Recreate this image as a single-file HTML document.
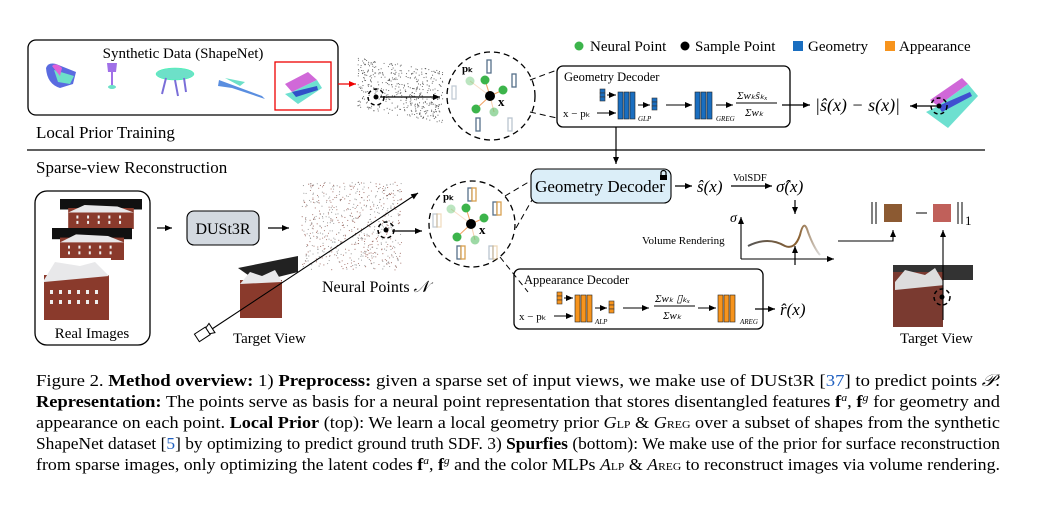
<!DOCTYPE html>
<html><head><meta charset="utf-8"><style>
html,body{margin:0;padding:0;background:#fff;}
svg{display:block;font-family:"Liberation Serif",serif;}
</style></head><body>
<svg id="s" width="1045" height="505" viewBox="0 0 1045 505" xmlns="http://www.w3.org/2000/svg">
<defs>
<marker id="a" markerWidth="8" markerHeight="8" refX="7" refY="4" orient="auto" markerUnits="userSpaceOnUse"><path d="M0,1 L7,4 L0,7 Z" fill="#000"/></marker>
<marker id="ar" markerWidth="8" markerHeight="8" refX="7" refY="4" orient="auto" markerUnits="userSpaceOnUse"><path d="M0,1 L7,4 L0,7 Z" fill="#e00"/></marker>
<linearGradient id="cg" x1="0" x2="1"><stop offset="0" stop-color="#555"/><stop offset="0.7" stop-color="#8a6030"/><stop offset="1" stop-color="#ddd"/></linearGradient>
</defs>
<rect x="28" y="40" width="310" height="75" rx="8" fill="none" stroke="#000" stroke-width="1.3"/>
<text x="183" y="58" font-size="15" text-anchor="middle">Synthetic Data (ShapeNet)</text>
<path d="M46,68 Q48,62 56,64 L76,72 L73,84 L60,88 Q47,84 46,68Z" fill="#5a6be0"/>
<path d="M54,70 L74,76 L70,84 L58,82Z" fill="#6de0c8"/><path d="M52,66 Q56,62 62,68 L60,76Z" fill="#e060d8"/>
<path d="M107,63 L117,63 L116,72 L108,72Z" fill="#a070e8"/><rect x="111" y="72" width="2" height="14" fill="#a070e8"/><ellipse cx="112" cy="87" rx="4" ry="2" fill="#6de0c8"/>
<ellipse cx="175" cy="74" rx="19" ry="6" fill="#6de0c8" stroke="#3fa" stroke-width=".5"/><path d="M166,78 L162,94 M175,80 L178,96 M184,78 L186,92" stroke="#7a6ed8" stroke-width="2"/>
<path d="M219,80 L262,96 L265,99 L232,88 L218,86Z" fill="#5a8ee0"/><path d="M225,78 L245,82 L240,86Z" fill="#6de0c8"/>
<rect x="275" y="62" width="56" height="48" fill="none" stroke="#e00" stroke-width="1.3"/>
<path d="M285,84 L308,72 L317,80 L292,92Z" fill="#d068d8"/><path d="M292,92 L317,80 L322,88 L298,104 L285,94Z" fill="#6de0d0"/><path d="M292,92 L317,86 L318,90 L296,97Z" fill="#3050c8"/>
<line x1="338" y1="84" x2="356" y2="84" stroke="#e00" stroke-width="1.3" marker-end="url(#ar)"/>
<text x="36" y="138" font-size="17">Local Prior Training</text>
<line x1="27" y1="150" x2="985" y2="150" stroke="#000" stroke-width="1.3"/>
<text x="36" y="173" font-size="17">Sparse-view Reconstruction</text>
<g id="pc1"></g><g id="pc2"></g>
<circle cx="376" cy="97" r="8" fill="none" stroke="#000" stroke-width="1.5" stroke-dasharray="4,3"/><circle cx="376" cy="97" r="2.5"/>
<line x1="380" y1="97" x2="440" y2="97" stroke="#000" stroke-width="1.2" marker-end="url(#a)"/>
<circle cx="491" cy="96" r="44" fill="none" stroke="#000" stroke-width="1.3" stroke-dasharray="6,4"/>
<g id="nb1"></g>
<line x1="530" y1="80" x2="557" y2="70" stroke="#000" stroke-dasharray="6,4"/><line x1="530" y1="112" x2="557" y2="118" stroke="#000" stroke-dasharray="6,4"/>
<circle cx="579" cy="46" r="4.5" fill="#3cb44b"/><text x="590" y="51" font-size="15">Neural Point</text>
<circle cx="685" cy="46" r="4.5" fill="#000"/><text x="695" y="51" font-size="15">Sample Point</text>
<rect x="793" y="41" width="10" height="10" fill="#1a6ec0"/><text x="808" y="51" font-size="15">Geometry</text>
<rect x="885" y="41" width="10" height="10" fill="#f7941d"/><text x="899" y="51" font-size="15">Appearance</text>
<rect x="557" y="66" width="233" height="61" rx="6" fill="none" stroke="#000" stroke-width="1.3"/>
<text x="564" y="81" font-size="12.5">Geometry Decoder</text>
<g id="gd"></g>
<line x1="782" y1="105" x2="810" y2="105" stroke="#000" stroke-width="1.2" marker-end="url(#a)"/>
<text x="815" y="111" font-size="18" font-style="italic">|ŝ(x) − s(x)|</text>
<line x1="938" y1="106" x2="910" y2="106" stroke="#000" stroke-width="1.2" marker-end="url(#a)"/>
<path d="M930,100 L962,78 L968,84 L938,106Z" fill="#d068d8"/><path d="M938,106 L968,84 L978,96 L948,128 L926,112Z" fill="#6de0d0"/><path d="M938,106 L970,92 L972,96 L942,112Z" fill="#4050d0"/>
<circle cx="939" cy="106" r="8" fill="none" stroke="#000" stroke-width="1.5" stroke-dasharray="4,3"/><circle cx="939" cy="106" r="2.5"/>
<line x1="616" y1="127" x2="616" y2="164" stroke="#000" stroke-width="1.2" marker-end="url(#a)"/>
<rect x="35" y="191" width="115" height="154" rx="12" fill="none" stroke="#000" stroke-width="1.3"/>
<g id="imgs"></g>
<text x="92" y="338" font-size="15" text-anchor="middle">Real Images</text>
<line x1="157" y1="228" x2="172" y2="228" stroke="#000" stroke-width="1.2" marker-end="url(#a)"/>
<rect x="187" y="211" width="72" height="34" rx="7" fill="#d3d9e0" stroke="#000" stroke-width="1.1"/>
<text x="223" y="234" font-size="16" text-anchor="middle">DUSt3R</text>
<line x1="268" y1="228" x2="289" y2="228" stroke="#000" stroke-width="1.2" marker-end="url(#a)"/>
<text x="322" y="292" font-size="16">Neural Points <tspan font-style="italic">𝒩</tspan></text>
<text x="233" y="343" font-size="15">Target View</text>
<line x1="212" y1="329" x2="418" y2="193" stroke="#000" stroke-width="1.1" marker-end="url(#a)"/>
<g transform="translate(205,332) rotate(-33)"><rect x="-10" y="-4" width="13" height="9" fill="#fff" stroke="#000"/><path d="M3,-3 L8,-5 L8,6 L3,4Z" fill="#fff" stroke="#000"/></g>
<circle cx="386" cy="230" r="8" fill="none" stroke="#000" stroke-width="1.5" stroke-dasharray="4,3"/><circle cx="386" cy="230" r="2.5"/>
<line x1="392" y1="231" x2="422" y2="231" stroke="#000" stroke-width="1.2" marker-end="url(#a)"/>
<circle cx="472" cy="224" r="43" fill="none" stroke="#000" stroke-width="1.3" stroke-dasharray="6,4"/>
<g id="nb2"></g>
<line x1="505" y1="196" x2="532" y2="180" stroke="#000" stroke-dasharray="6,4"/><line x1="500" y1="257" x2="528" y2="292" stroke="#000" stroke-dasharray="6,4"/><line x1="516" y1="228" x2="532" y2="200" stroke="#000" stroke-dasharray="6,4"/>
<rect x="531" y="169" width="140" height="34" rx="7" fill="#dbeef8" stroke="#000" stroke-width="1.1"/>
<text x="600" y="192" font-size="17" text-anchor="middle">Geometry Decoder</text>
<rect x="660" y="175" width="7" height="5" fill="#000"/><path d="M661,175 v-2 a2.5,2.5 0 0 1 5,0 v2" fill="none" stroke="#000" stroke-width="1.2"/>
<line x1="675" y1="186" x2="692" y2="186" stroke="#000" stroke-width="1.2" marker-end="url(#a)"/>
<text x="697" y="192" font-size="17" font-style="italic">ŝ(x)</text>
<text x="733" y="181" font-size="10.5">VolSDF</text>
<line x1="731" y1="186" x2="772" y2="186" stroke="#000" stroke-width="1.2" marker-end="url(#a)"/>
<text x="776" y="192" font-size="17" font-style="italic">σ̂(x)</text>
<line x1="795" y1="200" x2="795" y2="214" stroke="#000" stroke-width="1.2" marker-end="url(#a)"/>
<text x="730" y="222" font-size="14" font-style="italic">σ</text>
<line x1="741" y1="259" x2="741" y2="217" stroke="#000" stroke-width="1.1" marker-end="url(#a)"/>
<line x1="741" y1="259" x2="834" y2="259" stroke="#000" stroke-width="1.1" marker-end="url(#a)"/>
<path d="M748,246 Q768,236 785,246 Q795,250 800,235 Q804,218 808,232 Q814,248 820,255" fill="none" stroke="url(#cg)" stroke-width="2"/>
<text x="642" y="244" font-size="11">Volume Rendering</text>
<polyline points="838,241 893,241 893,230" fill="none" stroke="#000" stroke-width="1.1" marker-end="url(#a)"/>
<line x1="872" y1="202" x2="872" y2="224" stroke="#000" stroke-width="1"/><line x1="876" y1="202" x2="876" y2="224" stroke="#000" stroke-width="1"/>
<rect x="884" y="204" width="18" height="18" fill="#8c5a32"/>
<line x1="916" y1="213" x2="927" y2="213" stroke="#000" stroke-width="1"/>
<rect x="933" y="204" width="18" height="18" fill="#c0605a"/>
<line x1="958" y1="202" x2="958" y2="224" stroke="#000" stroke-width="1"/><line x1="962" y1="202" x2="962" y2="224" stroke="#000" stroke-width="1"/><text x="965" y="225" font-size="13">1</text>
<g id="tv2"></g>
<line x1="943" y1="320" x2="943" y2="230" stroke="#000" stroke-width="1.1" marker-end="url(#a)"/>
<circle cx="942" cy="297" r="8" fill="none" stroke="#000" stroke-width="1.5" stroke-dasharray="4,3"/><circle cx="942" cy="297" r="2.5"/>
<text x="900" y="343" font-size="15">Target View</text>
<rect x="514" y="269" width="249" height="60" rx="6" fill="none" stroke="#000" stroke-width="1.3"/>
<text x="524" y="284" font-size="12.5">Appearance Decoder</text>
<g id="ad"></g>
<line x1="755" y1="309" x2="775" y2="309" stroke="#000" stroke-width="1.2" marker-end="url(#a)"/>
<text x="780" y="315" font-size="17" font-style="italic">r̂(x)</text>
<line x1="795" y1="265" x2="795" y2="246" stroke="#000" stroke-width="1.2" marker-end="url(#a)"/>
<g font-size="17">
<text x="36" y="386" textLength="964" lengthAdjust="spacingAndGlyphs">Figure 2.  <tspan font-weight="bold">Method overview:</tspan> 1) <tspan font-weight="bold">Preprocess:</tspan> given a sparse set of input views, we make use of DUSt3R [<tspan fill="#2060c0">37</tspan>] to predict points <tspan font-style="italic">𝒫</tspan>.</text>
<text x="36" y="407" textLength="964" lengthAdjust="spacingAndGlyphs"><tspan font-weight="bold">Representation:</tspan> The points serve as basis for a neural point representation that stores disentangled features <tspan font-weight="bold">f</tspan><tspan font-size="11" dy="-6" font-style="italic">a</tspan><tspan dy="6">, </tspan><tspan font-weight="bold">f</tspan><tspan font-size="11" dy="-6" font-style="italic">g</tspan><tspan dy="6"> for geometry and</tspan></text>
<text x="36" y="428" textLength="964" lengthAdjust="spacingAndGlyphs">appearance on each point.  <tspan font-weight="bold">Local Prior</tspan> (top): We learn a local geometry prior <tspan font-style="italic">G</tspan><tspan font-size="11">LP</tspan> &amp; <tspan font-style="italic">G</tspan><tspan font-size="11">REG</tspan> over a subset of shapes from the synthetic</text>
<text x="36" y="449" textLength="964" lengthAdjust="spacingAndGlyphs">ShapeNet dataset [<tspan fill="#2060c0">5</tspan>] by optimizing to predict ground truth SDF. 3) <tspan font-weight="bold">Spurfies</tspan> (bottom): We make use of the prior for surface reconstruction</text>
<text x="36" y="470" textLength="964" lengthAdjust="spacingAndGlyphs">from sparse images, only optimizing the latent codes <tspan font-weight="bold">f</tspan><tspan font-size="11" dy="-6" font-style="italic">a</tspan><tspan dy="6">, </tspan><tspan font-weight="bold">f</tspan><tspan font-size="11" dy="-6" font-style="italic">g</tspan><tspan dy="6"> and the color MLPs </tspan><tspan font-style="italic">A</tspan><tspan font-size="11">LP</tspan> &amp; <tspan font-style="italic">A</tspan><tspan font-size="11">REG</tspan> to reconstruct images via volume rendering.</text>
</g>
</svg>
<script>
var NS="http://www.w3.org/2000/svg";
function el(p,t,a){var e=document.createElementNS(NS,t);for(var k in a)e.setAttribute(k,a[k]);p.appendChild(e);return e;}
function G(id){return document.getElementById(id);}
var seed=7;function r(){seed=(seed*16807)%2147483647;return seed/2147483647;}
var g=G("pc1");for(var i=0;i<450;i++){var x=358+r()*85,y=58+r()*52;var yy=y+(x-358)*0.15;if(yy>125)continue;el(g,"circle",{cx:x,cy:yy,r:0.55,fill:"#333",opacity:0.8});}
g=G("pc2");for(var i=0;i<650;i++){var x=302+r()*100,y=182+r()*88;var c=r()<0.5?"#8a4a40":"#777";el(g,"circle",{cx:x,cy:y,r:0.55,fill:c,opacity:0.8});}
function nb(id,cx,cy,col){var g=G(id);var pts=[[-20,-15,0.35],[-5,-16,1],[13,-6,1],[-14,13,1],[4,16,0.5]];
pts.forEach(function(p){el(g,"line",{x1:cx+p[0],y1:cy+p[1],x2:cx,y2:cy,stroke:"#f0a060","stroke-width":1,opacity:p[2]});el(g,"circle",{cx:cx+p[0],cy:cy+p[1],r:4.5,fill:"#3cb44b",opacity:p[2]});});
el(g,"circle",{cx:cx,cy:cy,r:5,fill:"#000"});var t=el(g,"text",{x:cx+8,y:cy+10,"font-size":13,"font-weight":"bold"});t.textContent="x";
t=el(g,"text",{x:cx-28,y:cy-24,"font-size":11,"font-weight":"bold"});t.textContent="pₖ";
[[-3,-36,1],[22,-22,1],[-38,-10,0.35],[-14,22,1],[18,22,0.4]].forEach(function(p){for(var j=0;j<(col?2:1);j++){var c=j==0?"#56708a":"#d8a050";el(g,"rect",{x:cx+p[0]+j*4,y:cy+p[1],width:4,height:13,fill:"#fff",stroke:c,"stroke-width":1.3,opacity:p[2]});}});}
nb("nb1",490,96,false);nb("nb2",471,224,true);
function vec(g,x,y,c){for(var j=0;j<3;j++)el(g,"rect",{x:x,y:y+j*4,width:5,height:4,fill:c,stroke:"#333","stroke-width":0.6});}
function dec(id,y0,c,lp,reg){var g=G(id);var X=id=="gd"?0:-43;
vec(g,600+X,y0-6,c);el(g,"line",{x1:607+X,y1:y0,x2:616+X,y2:y0,stroke:"#000","marker-end":"url(#a)"});
var t=el(g,"text",{x:563+X+(id=="gd"?0:-1),y:y0+22,"font-size":11});t.textContent="x − pₖ";
el(g,"line",{x1:597+X,y1:y0+18,x2:616+X,y2:y0+18,stroke:"#000","marker-end":"url(#a)"});
for(var j=0;j<3;j++)el(g,"rect",{x:618+X+j*6,y:y0-3,width:5,height:27,fill:c,stroke:"#222","stroke-width":0.6});
t=el(g,"text",{x:638+X,y:y0+26,"font-size":7,"font-style":"italic"});t.textContent=lp;
el(g,"line",{x1:638+X,y1:y0+10,x2:650+X,y2:y0+10,stroke:"#000","marker-end":"url(#a)"});
vec(g,652+X,y0+3,c);el(g,"line",{x1:666+X,y1:y0+10,x2:692+X,y2:y0+10,stroke:"#000","marker-end":"url(#a)"});
var fx=695;
if(id=="gd"){for(var j=0;j<3;j++)el(g,"rect",{x:fx+j*6,y:y0-3,width:5,height:27,fill:c,stroke:"#222","stroke-width":0.6});
t=el(g,"text",{x:716,y:y0+26,"font-size":7,"font-style":"italic"});t.textContent=reg;
el(g,"line",{x1:716,y1:y0+10,x2:733,y2:y0+10,stroke:"#000","marker-end":"url(#a)"});
t=el(g,"text",{x:737,y:y0+4,"font-size":11,"font-style":"italic"});t.textContent="Σwₖŝₖₓ";el(g,"line",{x1:736,y1:y0+8,x2:777,y2:y0+8,stroke:"#000"});
t=el(g,"text",{x:745,y:y0+21,"font-size":11,"font-style":"italic"});t.textContent="Σwₖ";}
else{t=el(g,"text",{x:655,y:y0+4,"font-size":11,"font-style":"italic"});t.textContent="Σwₖ ▯ₖₓ";el(g,"line",{x1:654,y1:y0+8,x2:695,y2:y0+8,stroke:"#000"});
t=el(g,"text",{x:663,y:y0+21,"font-size":11,"font-style":"italic"});t.textContent="Σwₖ";
el(g,"line",{x1:698,y1:y0+10,x2:716,y2:y0+10,stroke:"#000","marker-end":"url(#a)"});
for(var j=0;j<3;j++)el(g,"rect",{x:718+j*6,y:y0-3,width:5,height:27,fill:c,stroke:"#222","stroke-width":0.6});
t=el(g,"text",{x:740,y:y0+26,"font-size":7,"font-style":"italic"});t.textContent=reg;}}
dec("gd",95,"#1a6ec0","GLP","GREG");dec("ad",298,"#f7941d","ALP","AREG");
function house(g,x,y,w,h){el(g,"rect",{x:x,y:y,width:w,height:h*0.35,fill:"#111"});el(g,"rect",{x:x+w*0.1,y:y+h*0.3,width:w*0.8,height:h*0.7,fill:"#8a3a2c"});
el(g,"path",{d:"M"+(x+w*0.1)+","+(y+h*0.45)+" L"+(x+w*0.3)+","+(y+h*0.2)+" L"+(x+w*0.7)+","+(y+h*0.25)+" L"+(x+w*0.9)+","+(y+h*0.45)+"Z",fill:"#e8e8ea"});
for(var i=0;i<10;i++)el(g,"rect",{x:x+w*0.2+(i%5)*w*0.13,y:y+h*0.55+Math.floor(i/5)*h*0.18,width:2,height:3,fill:"#eee"});}
g=G("imgs");house(g,60,199,82,30);house(g,52,228,80,32);el(g,"rect",{x:43,y:258,width:68,height:60,fill:"#fff"});
el(g,"rect",{x:44,y:275,width:65,height:45,fill:"#8a3a2c"});el(g,"path",{d:"M44,280 L55,262 L80,266 L95,262 L109,276 L44,282Z",fill:"#e8e8ea"});
for(var i=0;i<12;i++)el(g,"rect",{x:50+(i%6)*9,y:290+Math.floor(i/6)*10,width:3,height:4,fill:"#eee"});
el(g,"path",{d:"M238,268 L298,256 L298,272 L258,282 Z",fill:"#222"});el(g,"rect",{x:240,y:280,width:42,height:38,fill:"#8a3a2c"});el(g,"path",{d:"M240,284 L250,272 L262,276 L275,270 L282,282Z",fill:"#e8e8ea"});
g=G("tv2");el(g,"rect",{x:893,y:265,width:80,height:15,fill:"#333"});el(g,"rect",{x:893,y:272,width:50,height:55,fill:"#7a3a30"});el(g,"path",{d:"M895,282 L905,270 L925,275 L935,268 L945,285 L895,290Z",fill:"#ddd"});el(g,"rect",{x:943,y:280,width:15,height:45,fill:"#fff"});
</script>
</body></html>
